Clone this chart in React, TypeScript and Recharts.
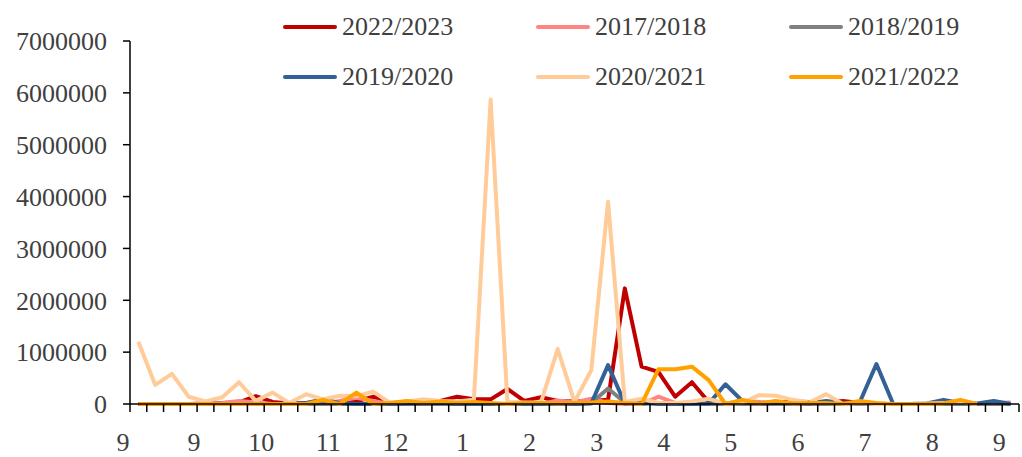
import { LineChart, Line, XAxis, YAxis } from "recharts";

const FONT = "'Liberation Serif', 'Times New Roman', serif";
const TEXT = "#404040";

// month labels, one every 4 weeks along the axis
const monthLabels = ["9", "9", "10", "11", "12", "1", "2", "3", "4", "5", "6", "7", "8", "9"];
const yTicks = [0, 1000000, 2000000, 3000000, 4000000, 5000000, 6000000, 7000000];

const seasons = ["2022/2023", "2017/2018", "2018/2019", "2019/2020", "2020/2021", "2021/2022"];
const colors = ["#C00000", "#FF8585", "#808080", "#336195", "#FFCC99", "#FFA200"];

// weekly values, week 1 = start of September
const s2022 = [
  0, 0, 0, 0, 10000, 20000, 30000, 150000, 40000, 10000,
  20000, 30000, 20000, 50000, 140000, 20000, 30000, 40000, 60000, 140000,
  90000, 90000, 290000, 60000, 130000, 60000, 50000, 60000, 80000, 2230000,
  720000, 620000, 140000, 420000, 40000, 10000, 20000, 20000, 30000, 50000,
  40000, 30000, 60000, 20000, 0,
];
const s2017 = [
  0, 0, 0, 0, 0, 20000, 60000, 30000, 0, 0,
  0, 0, 60000, 120000, 60000, 0, 0, 0, 0, 0,
  0, 0, 0, 0, 0, 70000, 30000, 100000, 20000, 0,
  0, 140000, 20000, 0, 0, 0, 70000, 40000, 0, 0,
  0, 20000, 0, 0, 0, 0, 0, 0, 0, 0,
  0, 20000, 30000,
];
const s2018 = [
  0, 0, 0, 0, 0, 0, 0, 0, 0, 0,
  0, 0, 0, 0, 0, 0, 0, 0, 0, 0,
  0, 0, 0, 0, 0, 0, 0, 20000, 300000, 30000,
  0, 20000, 0, 20000, 0, 0, 0, 0, 0, 0,
  0, 0, 0, 0, 0, 0, 0, 0, 0, 0,
  0, 0, 0,
];
const s2019 = [
  0, 0, 0, 0, 0, 0, 0, 0, 0, 0,
  20000, 90000, 20000, 0, 0, 0, 10000, 10000, 20000, 0,
  0, 0, 0, 0, 0, 0, 0, 10000, 750000, 10000,
  30000, 0, 0, 0, 10000, 380000, 60000, 10000, 20000, 20000,
  10000, 60000, 20000, 30000, 770000, 0, 0, 10000, 80000, 20000,
  10000, 60000, 0,
];
const s2020 = [
  1200000, 370000, 580000, 140000, 50000, 130000, 420000, 60000, 220000, 20000,
  190000, 90000, 160000, 150000, 240000, 20000, 50000, 90000, 60000, 50000,
  80000, 5870000, 40000, 30000, 30000, 1060000, 40000, 650000, 3900000, 40000,
  100000, 20000, 20000, 50000, 100000, 10000, 20000, 170000, 160000, 80000,
  30000, 190000, 0, 20000, 0, 0, 0, 10000, 20000, 30000,
  0,
];
const s2021 = [
  0, 0, 0, 0, 0, 0, 0, 0, 0, 0,
  0, 80000, 0, 220000, 0, 20000, 60000, 20000, 50000, 20000,
  40000, 20000, 0, 20000, 20000, 10000, 20000, 30000, 50000, 20000,
  0, 670000, 670000, 720000, 460000, 0, 80000, 10000, 60000, 10000,
  20000, 20000, 0, 60000, 20000, 0, 0, 0, 10000, 80000,
  0,
];

const series = [s2022, s2017, s2018, s2019, s2020, s2021];
const WEEKS = 53;

const data = Array.from({ length: WEEKS }, (_, i) => {
  const row: Record<string, number | null> = { x: i + 0.5 };
  series.forEach((s, k) => {
    row["s" + k] = s[i] ?? null;
  });
  return row;
});

const weekTicks = Array.from({ length: WEEKS + 1 }, (_, i) => i);

function MonthTick({ x, y, payload }: any) {
  const idx = payload.value as number;
  if (idx % 4 !== 0) return <g />;
  const dx = idx === 0 ? -7 : -3;
  return (
    <text x={x + dx} y={y} dy={39} textAnchor="middle" fill={TEXT} fontSize={26} fontFamily={FONT}>
      {monthLabels[idx / 4]}
    </text>
  );
}

const legendCols = [283, 536, 789];
const legendRows = [27, 77];

function SeasonLegend() {
  return (
    <>
      {seasons.map((name, k) => {
        const left = legendCols[k % 3];
        const cy = legendRows[Math.floor(k / 3)];
        return (
          <div key={name}>
            <div
              style={{
                position: "absolute",
                left,
                top: cy - 2,
                width: 54,
                height: 4,
                borderRadius: 2,
                background: colors[k],
              }}
            />
            <span
              style={{
                position: "absolute",
                left: left + 59,
                top: cy - 13,
                fontFamily: FONT,
                fontSize: 26,
                lineHeight: "26px",
                color: TEXT,
                whiteSpace: "nowrap",
              }}
            >
              {name}
            </span>
          </div>
        );
      })}
    </>
  );
}

export default function App() {
  return (
    <div style={{ position: "absolute", left: 0, top: 0, width: 1022, height: 457, background: "#fff" }}>
      <LineChart width={1022} height={457} data={data} margin={{ top: 41, right: 3, bottom: 0, left: 0 }}>
        <XAxis
          dataKey="x"
          type="number"
          domain={[0, WEEKS]}
          ticks={weekTicks}
          interval={0}
          height={53}
          axisLine={{ stroke: "#000", strokeWidth: 1.5 }}
          tickLine={{ stroke: "#000", strokeWidth: 1.5 }}
          tickSize={8}
          tickMargin={0}
          tick={<MonthTick />}
        />
        <YAxis
          type="number"
          domain={[0, 7000000]}
          ticks={yTicks}
          interval={0}
          width={130}
          axisLine={{ stroke: "#000", strokeWidth: 1.5 }}
          tickLine={{ stroke: "#000", strokeWidth: 1.5 }}
          tickSize={7}
          tickMargin={16}
          tick={{ fill: TEXT, fontSize: 26, fontFamily: FONT }}
        />
        {seasons.map((name, k) => (
          <Line
            key={name}
            name={name}
            type="linear"
            dataKey={"s" + k}
            stroke={colors[k]}
            strokeWidth={4}
            dot={false}
            activeDot={false}
            strokeLinejoin="round"
            isAnimationActive={false}
          />
        ))}
      </LineChart>
      <SeasonLegend />
    </div>
  );
}
